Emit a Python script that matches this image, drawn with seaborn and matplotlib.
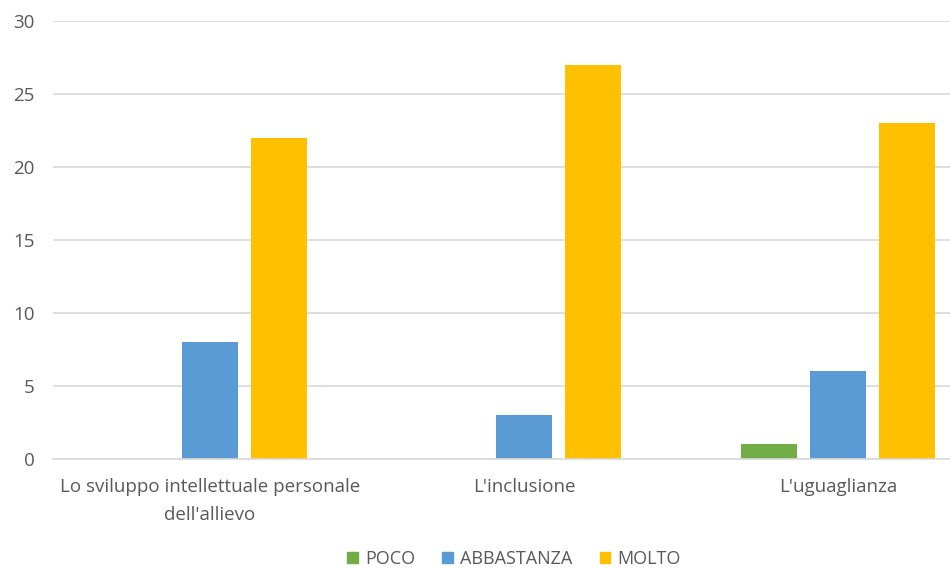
import matplotlib
matplotlib.use("Agg")
import matplotlib.pyplot as plt
import seaborn as sns
import pandas as pd

categories = ["Lo sviluppo intellettuale personale\ndell'allievo", "L'inclusione", "L'uguaglianza"]
series = ["POCO", "ABBASTANZA", "MOLTO"]
poco = [0, 0, 1]
abbastanza = [8, 3, 6]
molto = [22, 27, 23]
colors = ["#70AD47", "#5B9BD5", "#FFC000"]
yticks = [0, 5, 10, 15, 20, 25, 30]

rows = []
for cat, p, a, m in zip(categories, poco, abbastanza, molto):
    rows.append((cat, series[0], p))
    rows.append((cat, series[1], a))
    rows.append((cat, series[2], m))
df = pd.DataFrame(rows, columns=["categoria", "livello", "valore"])

sns.set_theme(style="white")
plt.rcParams["font.family"] = ["Open Sans", "DejaVu Sans"]

fig = plt.figure(figsize=(9.5, 5.68), dpi=100)
ax = fig.add_axes([53 / 950, 1 - 459 / 568, (995 - 53) / 950, (459 - 21) / 568])

sns.barplot(data=df, x="categoria", y="valore", hue="livello",
            hue_order=series, palette=colors, width=0.66, gap=0.2,
            saturation=1, linewidth=0, ax=ax, legend=True)

ax.set_xlim(-0.5, 2.5)
ax.set_ylim(0, 30)
ax.set_yticks(yticks)
ax.set_xlabel("")
ax.set_ylabel("")
ax.yaxis.grid(True, color="#D9D9D9", linewidth=1.2)
ax.set_axisbelow(True)
for side in ["top", "right", "left"]:
    ax.spines[side].set_visible(False)
ax.spines["bottom"].set_color("#D9D9D9")
ax.spines["bottom"].set_linewidth(1.2)
ax.tick_params(axis="both", length=0, labelsize=13.5, labelcolor="#595959")
ax.tick_params(axis="y", pad=13)
ax.tick_params(axis="x", pad=14)
for lbl in ax.get_xticklabels():
    lbl.set_linespacing(1.7)

ax.legend_.remove()
handles = [plt.Rectangle((0, 0), 1, 1, color=c) for c in colors]
fig.legend(handles, series, loc="center", bbox_to_anchor=(514 / 950, 1 - 559 / 568),
           ncol=3, frameon=False, fontsize=13, labelcolor="#595959",
           handlelength=0.6, handleheight=0.6, handletextpad=0.4, columnspacing=1.5)

fig.savefig("out.png", dpi=100)
